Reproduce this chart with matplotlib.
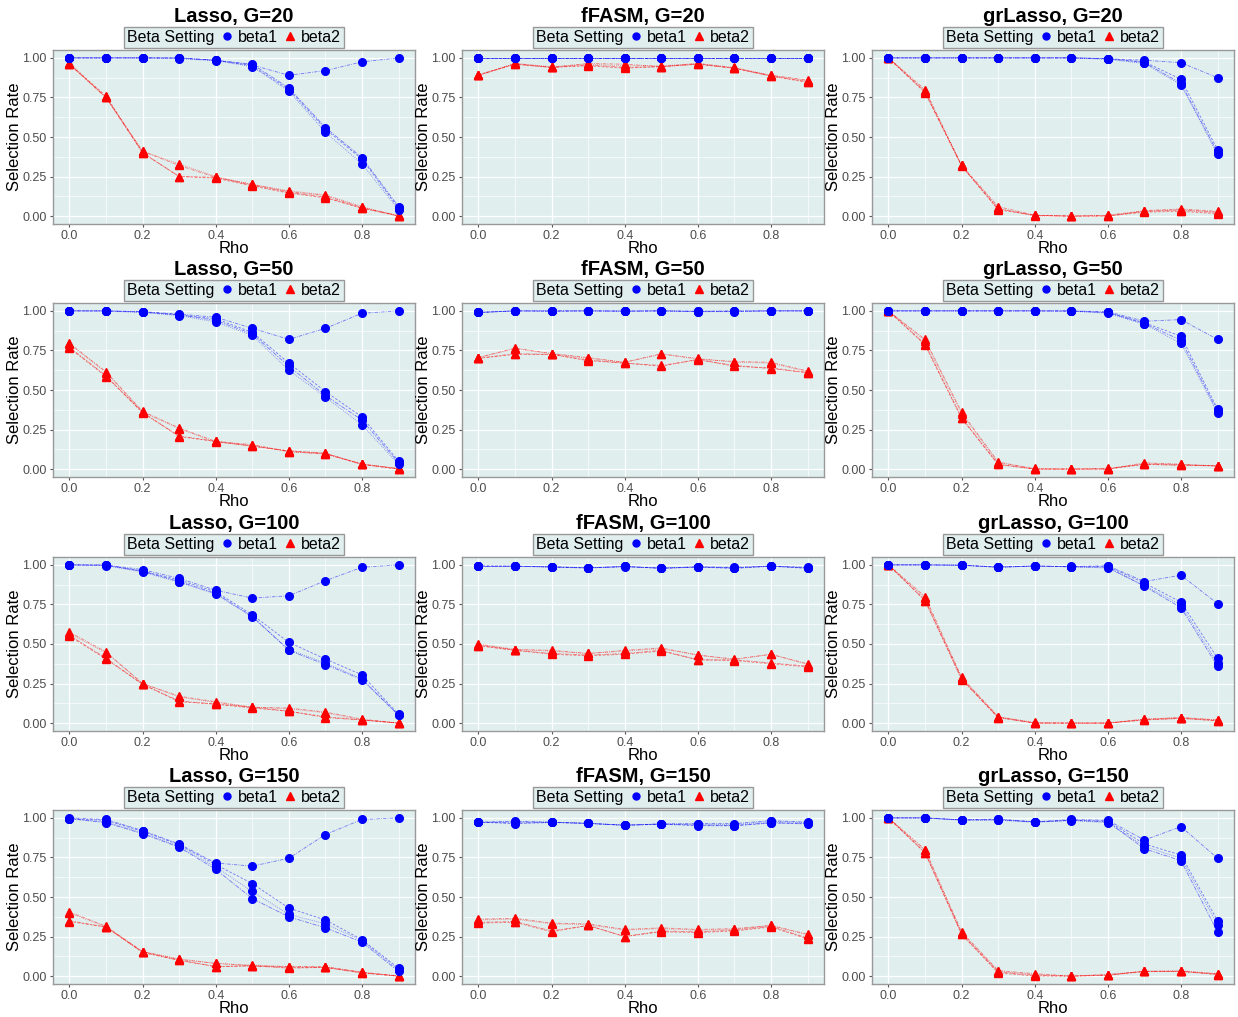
import numpy as np
import matplotlib
matplotlib.use("Agg")
from matplotlib import pyplot as plt
from matplotlib.lines import Line2D

plt.rcParams['font.family'] = ['Liberation Sans', 'DejaVu Sans']

rho = [0.0, 0.1, 0.2, 0.3, 0.4, 0.5, 0.6, 0.7, 0.8, 0.9]
methods = ["Lasso", "fFASM", "grLasso"]
groups = [20, 50, 100, 150]

# four replicate settings per beta
lasso_g20_beta1 = [[1, 1, 1, 1, 0.985, 0.955, 0.89, 0.92, 0.975, 1.0],
                   [1, 1, 1, 0.998, 0.985, 0.95, 0.80, 0.55, 0.36, 0.05],
                   [1, 1, 1, 0.995, 0.982, 0.945, 0.79, 0.53, 0.33, 0.04],
                   [1, 1, 1, 1, 0.985, 0.96, 0.81, 0.56, 0.37, 0.06]]
lasso_g20_beta2 = [[0.96, 0.75, 0.41, 0.32, 0.245, 0.20, 0.155, 0.13, 0.055, 0.0],
                   [0.96, 0.76, 0.40, 0.25, 0.24, 0.19, 0.145, 0.115, 0.05, 0.0],
                   [0.97, 0.75, 0.41, 0.33, 0.25, 0.20, 0.16, 0.135, 0.06, 0.0],
                   [0.96, 0.75, 0.40, 0.25, 0.245, 0.195, 0.15, 0.12, 0.05, 0.005]]
ffasm_g20_beta1 = [[1, 1, 1, 1, 1, 1, 1, 1, 1, 1],
                   [1, 1, 1, 1, 1, 1, 1, 1, 1, 1],
                   [1, 1, 1, 1, 1, 1, 1, 1, 1, 1],
                   [1, 1, 1, 1, 1, 1, 1, 1, 1, 1]]
ffasm_g20_beta2 = [[0.89, 0.965, 0.94, 0.965, 0.96, 0.945, 0.965, 0.935, 0.89, 0.86],
                   [0.895, 0.96, 0.94, 0.95, 0.935, 0.945, 0.96, 0.935, 0.885, 0.845],
                   [0.89, 0.965, 0.945, 0.96, 0.95, 0.95, 0.965, 0.94, 0.89, 0.855],
                   [0.89, 0.96, 0.94, 0.955, 0.94, 0.945, 0.96, 0.935, 0.885, 0.85]]
grlasso_g20_beta1 = [[1, 1, 1, 1, 1, 1, 0.995, 0.985, 0.97, 0.875],
                     [1, 1, 1, 1, 1, 1, 0.995, 0.975, 0.865, 0.42],
                     [1, 1, 1, 1, 1, 1, 0.99, 0.965, 0.83, 0.39],
                     [1, 1, 1, 1, 1, 1, 0.995, 0.97, 0.84, 0.40]]
grlasso_g20_beta2 = [[1, 0.80, 0.32, 0.06, 0.005, 0.0, 0.005, 0.035, 0.045, 0.03],
                     [1, 0.78, 0.32, 0.04, 0.005, 0.0, 0.0, 0.025, 0.03, 0.015],
                     [1, 0.79, 0.32, 0.05, 0.0, 0.0, 0.005, 0.03, 0.035, 0.02],
                     [1, 0.785, 0.315, 0.045, 0.005, 0.0, 0.0, 0.03, 0.04, 0.025]]

lasso_g50_beta1 = [[1, 1, 0.995, 0.98, 0.96, 0.89, 0.82, 0.89, 0.985, 1.0],
                   [1, 1, 0.995, 0.975, 0.95, 0.865, 0.67, 0.49, 0.33, 0.05],
                   [1, 0.998, 0.99, 0.97, 0.93, 0.845, 0.625, 0.455, 0.28, 0.03],
                   [1, 1, 0.992, 0.975, 0.94, 0.855, 0.65, 0.465, 0.31, 0.04]]
lasso_g50_beta2 = [[0.795, 0.615, 0.365, 0.26, 0.175, 0.155, 0.11, 0.095, 0.03, 0.0],
                   [0.765, 0.585, 0.36, 0.205, 0.175, 0.145, 0.115, 0.10, 0.03, 0.0],
                   [0.79, 0.61, 0.36, 0.255, 0.17, 0.15, 0.11, 0.095, 0.035, 0.0],
                   [0.77, 0.59, 0.355, 0.21, 0.175, 0.145, 0.115, 0.10, 0.03, 0.005]]
ffasm_g50_beta1 = [[0.99, 1, 1, 1, 1, 1, 0.998, 1, 1, 1],
                   [0.99, 1, 0.997, 1, 0.998, 1, 0.995, 0.997, 1, 1],
                   [0.992, 1, 0.998, 1, 0.997, 1, 0.995, 0.995, 1, 1],
                   [0.99, 1, 1, 1, 0.998, 1, 0.997, 0.998, 1, 1]]
ffasm_g50_beta2 = [[0.705, 0.765, 0.73, 0.705, 0.675, 0.73, 0.695, 0.68, 0.675, 0.62],
                   [0.70, 0.725, 0.725, 0.685, 0.67, 0.65, 0.695, 0.65, 0.64, 0.61],
                   [0.705, 0.76, 0.73, 0.70, 0.675, 0.725, 0.70, 0.675, 0.67, 0.615],
                   [0.70, 0.73, 0.725, 0.69, 0.67, 0.655, 0.69, 0.655, 0.635, 0.61]]
grlasso_g50_beta1 = [[1, 1, 1, 1, 1, 1, 0.995, 0.935, 0.945, 0.82],
                     [1, 1, 1, 1, 1, 0.998, 0.99, 0.925, 0.84, 0.38],
                     [1, 1, 1, 1, 1, 0.998, 0.985, 0.915, 0.795, 0.355],
                     [1, 1, 1, 1, 1, 1, 0.99, 0.92, 0.815, 0.365]]
grlasso_g50_beta2 = [[1, 0.82, 0.36, 0.045, 0.0, 0.0, 0.0, 0.04, 0.03, 0.02],
                     [1, 0.785, 0.32, 0.03, 0.0, 0.0, 0.0, 0.03, 0.025, 0.02],
                     [1, 0.81, 0.35, 0.04, 0.005, 0.0, 0.0, 0.035, 0.03, 0.02],
                     [1, 0.79, 0.325, 0.03, 0.0, 0.0, 0.005, 0.03, 0.025, 0.02]]

lasso_g100_beta1 = [[1, 1, 0.97, 0.915, 0.84, 0.79, 0.805, 0.90, 0.985, 1.0],
                    [1, 0.998, 0.96, 0.905, 0.83, 0.685, 0.51, 0.405, 0.305, 0.055],
                    [1, 0.995, 0.955, 0.89, 0.815, 0.67, 0.465, 0.38, 0.28, 0.05],
                    [1, 0.998, 0.96, 0.895, 0.82, 0.675, 0.46, 0.37, 0.275, 0.05]]
lasso_g100_beta2 = [[0.575, 0.45, 0.25, 0.17, 0.135, 0.10, 0.095, 0.07, 0.025, 0.0],
                    [0.55, 0.405, 0.245, 0.135, 0.12, 0.095, 0.075, 0.04, 0.02, 0.0],
                    [0.565, 0.445, 0.25, 0.165, 0.13, 0.10, 0.09, 0.065, 0.02, 0.0],
                    [0.555, 0.41, 0.245, 0.14, 0.12, 0.10, 0.075, 0.035, 0.02, 0.0]]
ffasm_g100_beta1 = [[0.99, 0.992, 0.988, 0.982, 0.99, 0.98, 0.988, 0.985, 0.993, 0.985],
                    [0.995, 0.992, 0.986, 0.98, 0.99, 0.978, 0.986, 0.978, 0.992, 0.978],
                    [0.992, 0.99, 0.988, 0.982, 0.988, 0.98, 0.988, 0.982, 0.993, 0.982],
                    [0.99, 0.992, 0.987, 0.981, 0.99, 0.979, 0.987, 0.98, 0.992, 0.98]]
ffasm_g100_beta2 = [[0.50, 0.465, 0.46, 0.44, 0.46, 0.475, 0.43, 0.405, 0.435, 0.375],
                    [0.49, 0.46, 0.435, 0.425, 0.435, 0.455, 0.40, 0.395, 0.375, 0.355],
                    [0.495, 0.465, 0.455, 0.44, 0.455, 0.47, 0.43, 0.40, 0.435, 0.37],
                    [0.49, 0.46, 0.44, 0.43, 0.44, 0.46, 0.40, 0.40, 0.38, 0.36]]
grlasso_g100_beta1 = [[1, 1, 0.998, 0.988, 0.993, 0.99, 0.995, 0.895, 0.935, 0.755],
                      [1, 1, 0.998, 0.985, 0.993, 0.988, 0.99, 0.885, 0.765, 0.41],
                      [1, 1, 0.998, 0.986, 0.993, 0.988, 0.98, 0.87, 0.745, 0.38],
                      [1, 1, 0.998, 0.985, 0.993, 0.988, 0.985, 0.865, 0.73, 0.36]]
grlasso_g100_beta2 = [[1, 0.80, 0.29, 0.04, 0.0, 0.0, 0.0, 0.025, 0.035, 0.02],
                      [1, 0.775, 0.28, 0.035, 0.0, 0.0, 0.0, 0.02, 0.03, 0.015],
                      [1, 0.79, 0.285, 0.04, 0.005, 0.0, 0.0, 0.025, 0.035, 0.02],
                      [1, 0.775, 0.275, 0.035, 0.0, 0.0, 0.0, 0.02, 0.03, 0.015]]

lasso_g150_beta1 = [[1.0, 0.99, 0.92, 0.835, 0.715, 0.695, 0.745, 0.895, 0.99, 1.0],
                    [0.995, 0.985, 0.915, 0.83, 0.705, 0.585, 0.43, 0.355, 0.23, 0.05],
                    [0.995, 0.975, 0.905, 0.82, 0.69, 0.535, 0.39, 0.33, 0.225, 0.04],
                    [0.995, 0.97, 0.90, 0.815, 0.675, 0.49, 0.375, 0.305, 0.215, 0.03]]
lasso_g150_beta2 = [[0.405, 0.315, 0.155, 0.105, 0.08, 0.065, 0.06, 0.06, 0.025, 0.0],
                    [0.345, 0.31, 0.15, 0.10, 0.06, 0.065, 0.055, 0.055, 0.02, 0.0],
                    [0.40, 0.31, 0.155, 0.11, 0.08, 0.07, 0.06, 0.055, 0.025, 0.0],
                    [0.35, 0.31, 0.15, 0.10, 0.06, 0.065, 0.05, 0.055, 0.02, 0.0]]
ffasm_g150_beta1 = [[0.973, 0.979, 0.973, 0.966, 0.954, 0.962, 0.964, 0.964, 0.983, 0.973],
                    [0.973, 0.964, 0.971, 0.965, 0.953, 0.96, 0.951, 0.95, 0.968, 0.962],
                    [0.972, 0.975, 0.973, 0.966, 0.954, 0.962, 0.96, 0.958, 0.978, 0.97],
                    [0.973, 0.968, 0.972, 0.965, 0.954, 0.961, 0.955, 0.952, 0.97, 0.965]]
ffasm_g150_beta2 = [[0.36, 0.365, 0.335, 0.33, 0.295, 0.305, 0.295, 0.30, 0.32, 0.265],
                    [0.335, 0.34, 0.28, 0.32, 0.25, 0.28, 0.275, 0.285, 0.31, 0.235],
                    [0.355, 0.36, 0.33, 0.325, 0.29, 0.30, 0.29, 0.295, 0.32, 0.26],
                    [0.34, 0.345, 0.285, 0.32, 0.25, 0.285, 0.28, 0.29, 0.315, 0.24]]
grlasso_g150_beta1 = [[1, 1, 0.988, 0.993, 0.975, 0.99, 0.985, 0.86, 0.945, 0.745],
                      [1, 1, 0.987, 0.99, 0.974, 0.985, 0.98, 0.835, 0.765, 0.35],
                      [1, 1, 0.985, 0.985, 0.972, 0.983, 0.97, 0.82, 0.745, 0.325],
                      [1, 1, 0.987, 0.988, 0.975, 0.985, 0.975, 0.805, 0.73, 0.28]]
grlasso_g150_beta2 = [[1, 0.80, 0.28, 0.035, 0.015, 0.0, 0.01, 0.03, 0.03, 0.015],
                      [1, 0.78, 0.265, 0.02, 0.0, 0.0, 0.005, 0.03, 0.03, 0.01],
                      [1, 0.795, 0.275, 0.03, 0.01, 0.0, 0.01, 0.03, 0.035, 0.015],
                      [1, 0.78, 0.265, 0.025, 0.005, 0.0, 0.005, 0.03, 0.03, 0.01]]

panels = {
    ("Lasso", 20): (lasso_g20_beta1, lasso_g20_beta2),
    ("fFASM", 20): (ffasm_g20_beta1, ffasm_g20_beta2),
    ("grLasso", 20): (grlasso_g20_beta1, grlasso_g20_beta2),
    ("Lasso", 50): (lasso_g50_beta1, lasso_g50_beta2),
    ("fFASM", 50): (ffasm_g50_beta1, ffasm_g50_beta2),
    ("grLasso", 50): (grlasso_g50_beta1, grlasso_g50_beta2),
    ("Lasso", 100): (lasso_g100_beta1, lasso_g100_beta2),
    ("fFASM", 100): (ffasm_g100_beta1, ffasm_g100_beta2),
    ("grLasso", 100): (grlasso_g100_beta1, grlasso_g100_beta2),
    ("Lasso", 150): (lasso_g150_beta1, lasso_g150_beta2),
    ("fFASM", 150): (ffasm_g150_beta1, ffasm_g150_beta2),
    ("grLasso", 150): (grlasso_g150_beta1, grlasso_g150_beta2),
}

dashes = [(0, (4, 1.5, 1, 1.5)), (0, (3, 2)), (0, (1, 1.5)), (0, (5, 1.5, 1.5, 1.5))]
bg = "#E0EEEE"
W, H = 1238, 1017
col_left = [53, 462, 872]
row_top = [50, 303, 557, 810]
pw, ph = 362, 174

fig = plt.figure(figsize=(W / 100, H / 100), dpi=100)

for r, g in enumerate(groups):
    for c, m in enumerate(methods):
        ax = fig.add_axes([col_left[c] / W, 1 - (row_top[r] + ph) / H, pw / W, ph / H])
        ax.set_facecolor(bg)
        b1, b2 = panels[(m, g)]
        for i in range(4):
            ax.plot(rho, b2[i], color="red", ls=dashes[i], lw=0.6, alpha=0.5)
            ax.plot(rho, b2[i], ls="none", marker="^", ms=6, color="red")
        for i in range(4):
            ax.plot(rho, b1[i], color="blue", ls=dashes[i], lw=0.6, alpha=0.5)
            ax.plot(rho, b1[i], ls="none", marker="o", ms=5.5, color="blue")

        ax.set_xlim(-0.045, 0.945)
        ax.set_ylim(-0.05, 1.05)
        ax.set_xticks([0.0, 0.2, 0.4, 0.6, 0.8])
        ax.set_xticklabels(["0.0", "0.2", "0.4", "0.6", "0.8"])
        ax.set_xticks([0.1, 0.3, 0.5, 0.7, 0.9], minor=True)
        ax.set_yticks([0.0, 0.25, 0.5, 0.75, 1.0])
        ax.set_yticklabels(["0.00", "0.25", "0.50", "0.75", "1.00"])
        ax.set_yticks([0.125, 0.375, 0.625, 0.875], minor=True)
        ax.grid(which="major", color="white", lw=0.9)
        ax.grid(which="minor", color="white", lw=0.45)
        ax.set_axisbelow(True)
        ax.tick_params(which="major", length=2.5, width=0.8, color="#555555",
                       labelsize=9, labelcolor="#4D4D4D", pad=2)
        ax.tick_params(which="minor", length=0)
        for s in ax.spines.values():
            s.set_color("#999999")
            s.set_linewidth(1.0)
        ax.set_xlabel("Rho", fontsize=12, labelpad=-1)
        ax.set_ylabel("Selection Rate", fontsize=12, labelpad=0)
        ax.set_title(f"{m}, G={g}", fontsize=14.5, fontweight="bold", pad=20)

        handles = [Line2D([], [], ls="none", marker="o", ms=5, color="blue"),
                   Line2D([], [], ls="none", marker="^", ms=6, color="red")]
        leg = ax.legend(handles, ["beta1", "beta2"], title="Beta Setting", ncol=2,
                        loc="lower center", bbox_to_anchor=(0.5, 1.012), fontsize=11.5,
                        title_fontsize=11.5, frameon=True, fancybox=False,
                        facecolor=bg, edgecolor="#999999", framealpha=1,
                        handlelength=0.8, handletextpad=0.3, columnspacing=0.6,
                        borderpad=0.2, borderaxespad=0)
        leg.get_frame().set_linewidth(1.0)
        # put the legend title on the left, in line with the keys
        box = leg.get_children()[0]
        title_box = box.get_children()[0]
        entries = box.get_children()[1]
        box._children = [entries]
        entries._children = [title_box] + entries.get_children()
        entries.sep = 4

fig.savefig("out.png", dpi=100)
